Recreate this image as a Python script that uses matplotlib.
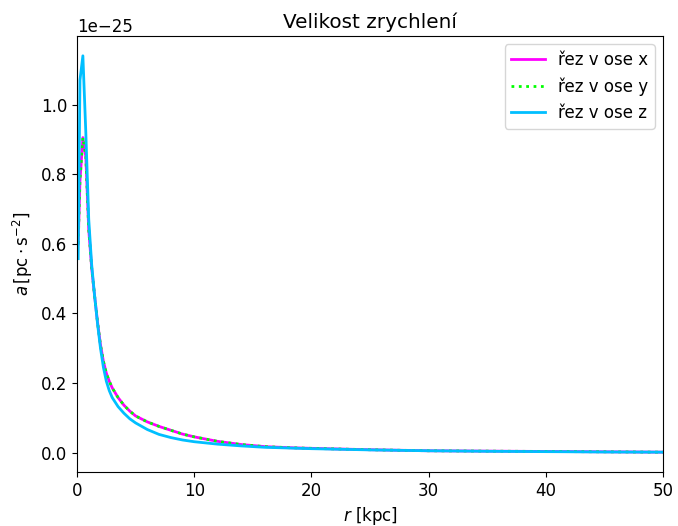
import matplotlib
matplotlib.use('Agg')
import matplotlib.pyplot as plt
import numpy as np

plt.rcParams['font.size'] = 12

# radius in kpc
r = [0.1, 0.25, 0.5, 0.75, 1.0, 1.25, 1.5, 1.75, 2.0, 2.25, 2.5, 2.75, 3.0,
     3.5, 4.0, 4.5, 5.0, 6.0, 7.0, 8.0, 9.0, 10.0, 12.0, 14.0, 16.0, 18.0,
     20.0, 25.0, 30.0, 35.0, 40.0, 45.0, 50.0]

# acceleration in units of 1e-25 pc s^-2
a_x = [0.60, 0.78, 0.905, 0.85, 0.64, 0.53, 0.45, 0.375, 0.31, 0.262, 0.228,
       0.205, 0.186, 0.158, 0.136, 0.119, 0.105, 0.088, 0.075, 0.064, 0.053,
       0.045, 0.032, 0.023, 0.017, 0.014, 0.012, 0.008, 0.005, 0.004, 0.003,
       0.002, 0.001]
a_y = [0.60, 0.78, 0.905, 0.85, 0.64, 0.53, 0.45, 0.375, 0.31, 0.262, 0.228,
       0.205, 0.186, 0.158, 0.136, 0.119, 0.105, 0.088, 0.075, 0.064, 0.053,
       0.045, 0.032, 0.023, 0.017, 0.014, 0.012, 0.008, 0.005, 0.004, 0.003,
       0.002, 0.001]
a_z = [0.557, 1.07, 1.14, 0.92, 0.67, 0.54, 0.45, 0.37, 0.30, 0.245, 0.205,
       0.178, 0.158, 0.132, 0.113, 0.097, 0.085, 0.066, 0.052, 0.043, 0.036,
       0.031, 0.024, 0.019, 0.015, 0.013, 0.011, 0.0075, 0.005, 0.0035, 0.0025,
       0.0015, 0.001]

scale = 1e-25

fig = plt.figure(figsize=(6.78, 5.26), dpi=100)
ax = fig.add_axes([0.1136, 0.1027, 0.8643, 0.8289])

ax.plot(r, np.array(a_x) * scale, color='magenta', lw=2, label='řez v ose x')
ax.plot(r, np.array(a_y) * scale, color='lime', lw=2, ls=':', label='řez v ose y')
ax.plot(r, np.array(a_z) * scale, color='deepskyblue', lw=2, label='řez v ose z')

ax.set_xlim(0, 50)
ax.set_title('Velikost zrychlení')
ax.set_xlabel('$r$ [kpc]')
ax.set_ylabel(r'$a\,[\mathrm{pc \cdot s^{-2}}]$')
ax.legend(loc='upper right')

fig.savefig('out.png', dpi=100)
